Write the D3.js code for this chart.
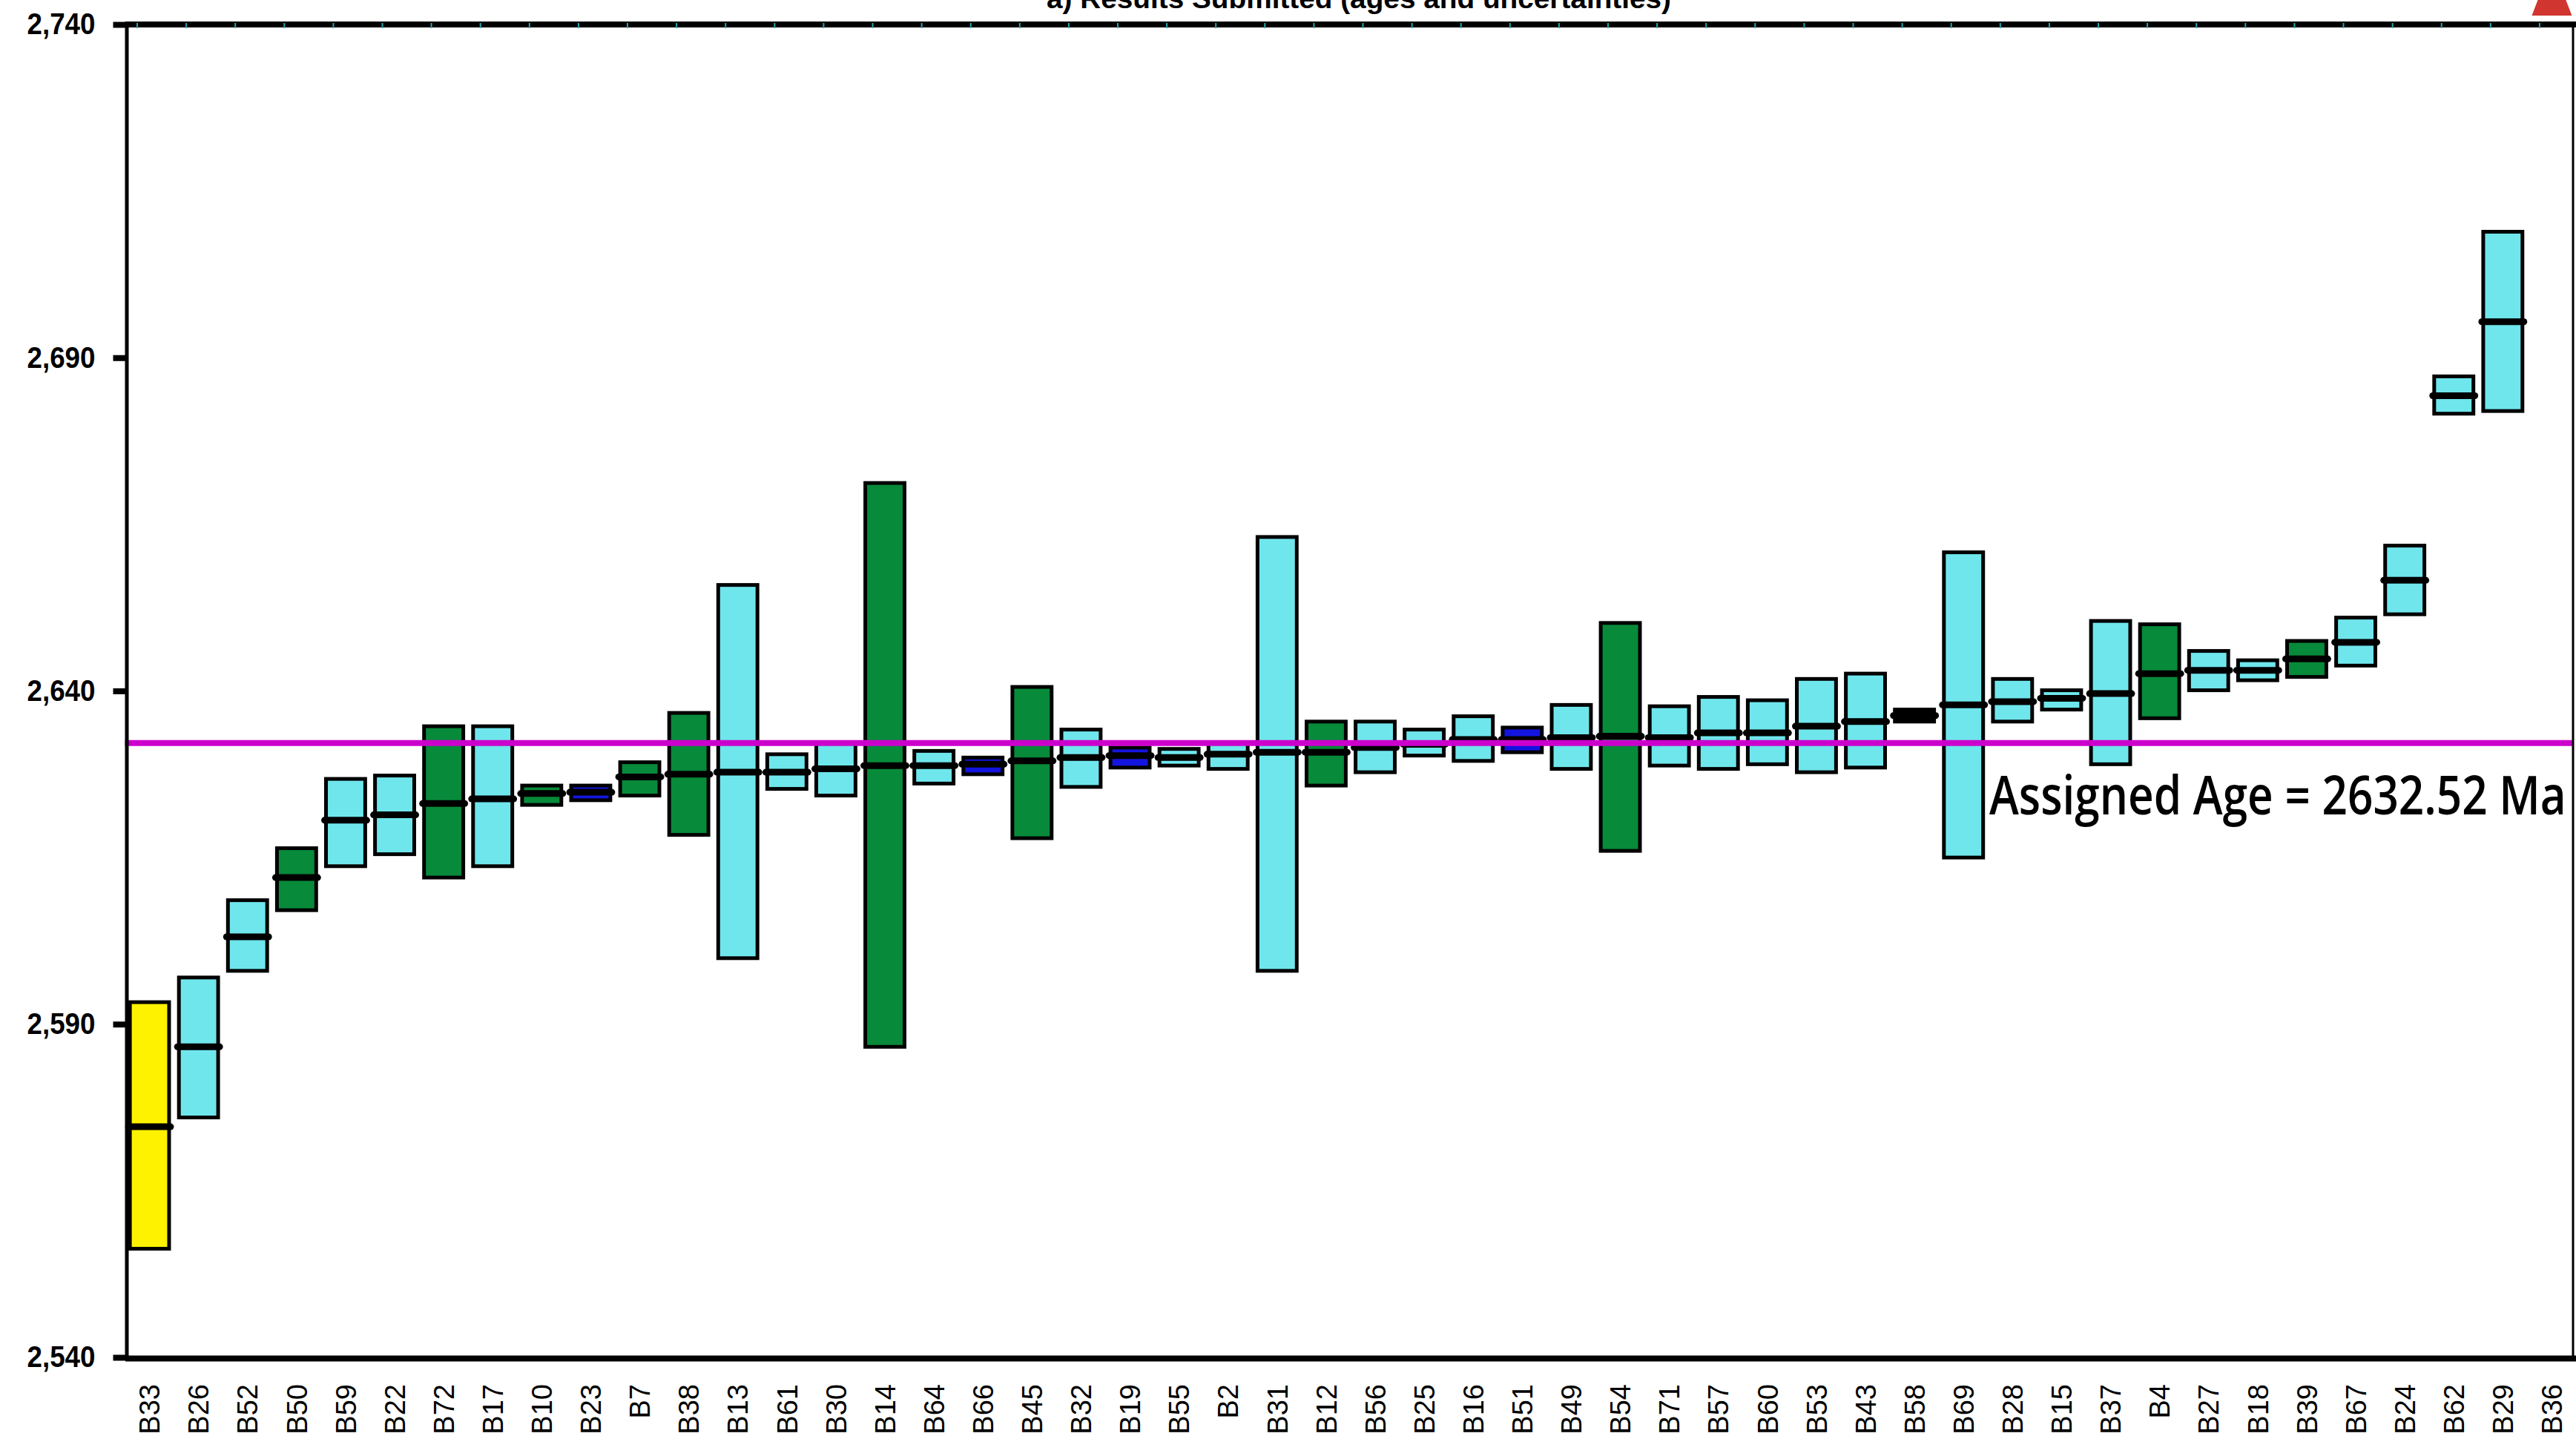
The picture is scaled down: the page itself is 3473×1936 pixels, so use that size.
<!DOCTYPE html>
<html><head><meta charset="utf-8">
<script src="https://cdn.jsdelivr.net/npm/d3@7"></script>
<style>body{margin:0;background:#fff}svg{display:block}</style>
</head><body><svg id="chart" width="3473" height="1936"></svg>
<script>
const categories = ["B33","B26","B52","B50","B59","B22","B72","B17","B10","B23","B7","B38","B13","B61","B30","B14","B64","B66","B45","B32","B19","B55","B2","B31","B12","B56","B25","B16","B51","B49","B54","B71","B57","B60","B53","B43","B58","B69","B28","B15","B37","B4","B27","B18","B39","B67","B24","B62","B29","B36"];
const upper = [2593.3,2597.0,2608.6,2616.4,2626.8,2627.3,2634.7,2634.7,2625.8,2625.8,2629.3,2636.7,2655.9,2630.5,2632.2,2671.2,2631.0,2630.0,2640.6,2634.2,2631.5,2631.3,2632.2,2663.1,2635.4,2635.4,2634.2,2636.2,2634.5,2637.9,2650.2,2637.7,2639.1,2638.6,2641.8,2642.6,2637.2,2660.8,2641.8,2640.1,2650.5,2650.0,2646.0,2644.6,2647.5,2651.0,2661.8,2687.2,2708.9,null];
const median = [2574.6,2586.6,2603.1,2612.0,2620.6,2621.4,2623.1,2623.8,2624.6,2624.8,2627.1,2627.5,2627.8,2627.8,2628.3,2628.8,2628.8,2629.0,2629.5,2630.0,2630.3,2630.0,2630.5,2630.8,2630.8,2631.5,2632.0,2632.7,2632.7,2633.0,2633.2,2633.0,2633.7,2633.7,2634.7,2635.4,2636.3,2637.9,2638.4,2638.9,2639.6,2642.6,2643.1,2643.1,2644.8,2647.3,2656.6,2684.3,2695.4,null];
const lower = [2556.3,2576.0,2598.0,2607.1,2613.7,2615.5,2612.0,2613.7,2622.9,2623.6,2624.3,2618.4,2599.9,2625.3,2624.3,2586.6,2626.1,2627.5,2617.9,2625.6,2628.5,2628.8,2628.3,2598.0,2625.8,2627.8,2630.3,2629.5,2630.8,2628.3,2616.0,2628.8,2628.3,2629.0,2627.8,2628.5,2635.4,2615.0,2635.4,2637.2,2629.0,2635.9,2640.1,2641.6,2642.1,2643.8,2651.5,2681.6,2682.0,null];
const group = ["y","c","c","g","c","c","g","c","g","b","g","g","c","c","c","g","c","b","g","c","b","c","c","c","g","c","c","c","b","c","g","c","c","c","c","c","k","c","c","c","c","g","c","c","g","c","c","c","c","r"];
const yTicks = [2540, 2590, 2640, 2690, 2740];
const assignedAge = 2632.52;
const assignedLabel = "Assigned Age = 2632.52 Ma";
const title = "a) Results Submitted (ages and uncertainties)";

const fillColor = {y:"#fff200", c:"#6fe6ec", g:"#078a3a", b:"#1414e0", k:"#000000", r:"#d0352f"};

const svg = d3.select("#chart");
const step = 66.1;
const x0 = 168.5;
const x = d3.scaleBand().domain(categories).range([x0, x0 + step*categories.length]).padding(0);
const y = d3.scaleLinear().domain([2540, 2740]).range([1830, 33]);
const bw = x.bandwidth();
const boxW = bw*0.8;

const data = categories.map((c,i)=>({c, hi:upper[i], md:median[i], lo:lower[i], g:group[i]}));

// title (partially cut at top, as in the reference)
svg.append("text").attr("x", 1832).attr("y", 11).attr("text-anchor","middle")
  .attr("font-family","Liberation Sans, Arial, sans-serif").attr("font-weight","bold")
  .attr("font-size", 36).attr("textLength", 842).attr("lengthAdjust","spacingAndGlyphs")
  .text(title);

// boxes
const bars = data.filter(d=>d.hi!=null);
svg.append("g").selectAll("rect").data(bars).join("rect")
  .attr("x", d=>x(d.c)+(bw-boxW)/2)
  .attr("width", boxW)
  .attr("y", d=>y(d.hi))
  .attr("height", d=>y(d.lo)-y(d.hi))
  .attr("fill", d=>fillColor[d.g])
  .attr("stroke","#000").attr("stroke-width",5);

svg.append("g").selectAll("line").data(bars).join("line")
  .attr("x1", d=>x(d.c)+(bw-boxW)/2-2)
  .attr("x2", d=>x(d.c)+(bw+boxW)/2+2)
  .attr("y1", d=>y(d.md)).attr("y2", d=>y(d.md))
  .attr("stroke","#000").attr("stroke-width",9).attr("stroke-linecap","round");

// assigned age line
svg.append("line").attr("x1", x0).attr("x2", 3470)
  .attr("y1", y(assignedAge)+3).attr("y2", y(assignedAge)+3)
  .attr("stroke","#cc00cc").attr("stroke-width",8);

// assigned age label (condensed by a horizontal scale so it fits to the right edge)
const lab = svg.append("text")
  .attr("font-family","Open Sans, sans-serif").attr("font-weight",600)
  .attr("font-size",72).attr("fill","#000").text(assignedLabel);
const natural = lab.node().getComputedTextLength();
const sx = 778 / natural;
lab.attr("transform",`translate(2682,1098) scale(${sx},1)`);

// right border
svg.append("line").attr("x1",3469).attr("x2",3469).attr("y1",y(2740)).attr("y2",y(2540))
  .attr("stroke","#000").attr("stroke-width",3);

// top frame line
svg.append("line").attr("x1",x0).attr("x2",3473).attr("y1",y(2740)).attr("y2",y(2740))
  .attr("stroke","#000").attr("stroke-width",8);
svg.append("g").selectAll("line").data(categories).join("line")
  .attr("x1", c=>x(c)+step*0.25).attr("x2", c=>x(c)+step*0.25)
  .attr("y1", y(2740)-2).attr("y2", y(2740)+5)
  .attr("stroke","#2aa6b0").attr("stroke-width",2);

// off-scale marker
svg.append("g").selectAll("path").data(data.filter(d=>d.hi==null)).join("path")
  .attr("d", d=>{const cx=x(d.c)+bw/2; return `M${cx-27},21L${cx+27},21L${cx},-49Z`;})
  .attr("fill", d=>fillColor[d.g]);

// left axis
const gy = svg.append("g").attr("transform",`translate(${x0+2},0)`)
  .call(d3.axisLeft(y).tickValues(yTicks).tickFormat(d3.format(",")).tickSize(18).tickSizeOuter(0).tickPadding(24));
gy.select(".domain").attr("stroke","#000").attr("stroke-width",5);
gy.selectAll(".tick line").attr("stroke","#000").attr("stroke-width",8);
gy.selectAll(".tick text").attr("font-family","Liberation Sans, Arial, sans-serif")
  .attr("font-weight","bold").attr("font-size",40).attr("fill","#000")
  .attr("textLength",92).attr("lengthAdjust","spacingAndGlyphs");

// bottom axis
const gx = svg.append("g").attr("transform",`translate(0,${y(2540)+1})`)
  .call(d3.axisBottom(x).tickSize(0).tickSizeOuter(0));
gx.select(".domain").attr("stroke","#000").attr("stroke-width",8);
gx.selectAll(".tick text").attr("font-family","Liberation Sans, Arial, sans-serif")
  .attr("font-size",38).attr("fill","#000")
  .attr("text-anchor","end").attr("transform","rotate(-90)")
  .attr("x",-35).attr("y",0).attr("dy","0.36em");
</script></body></html>
